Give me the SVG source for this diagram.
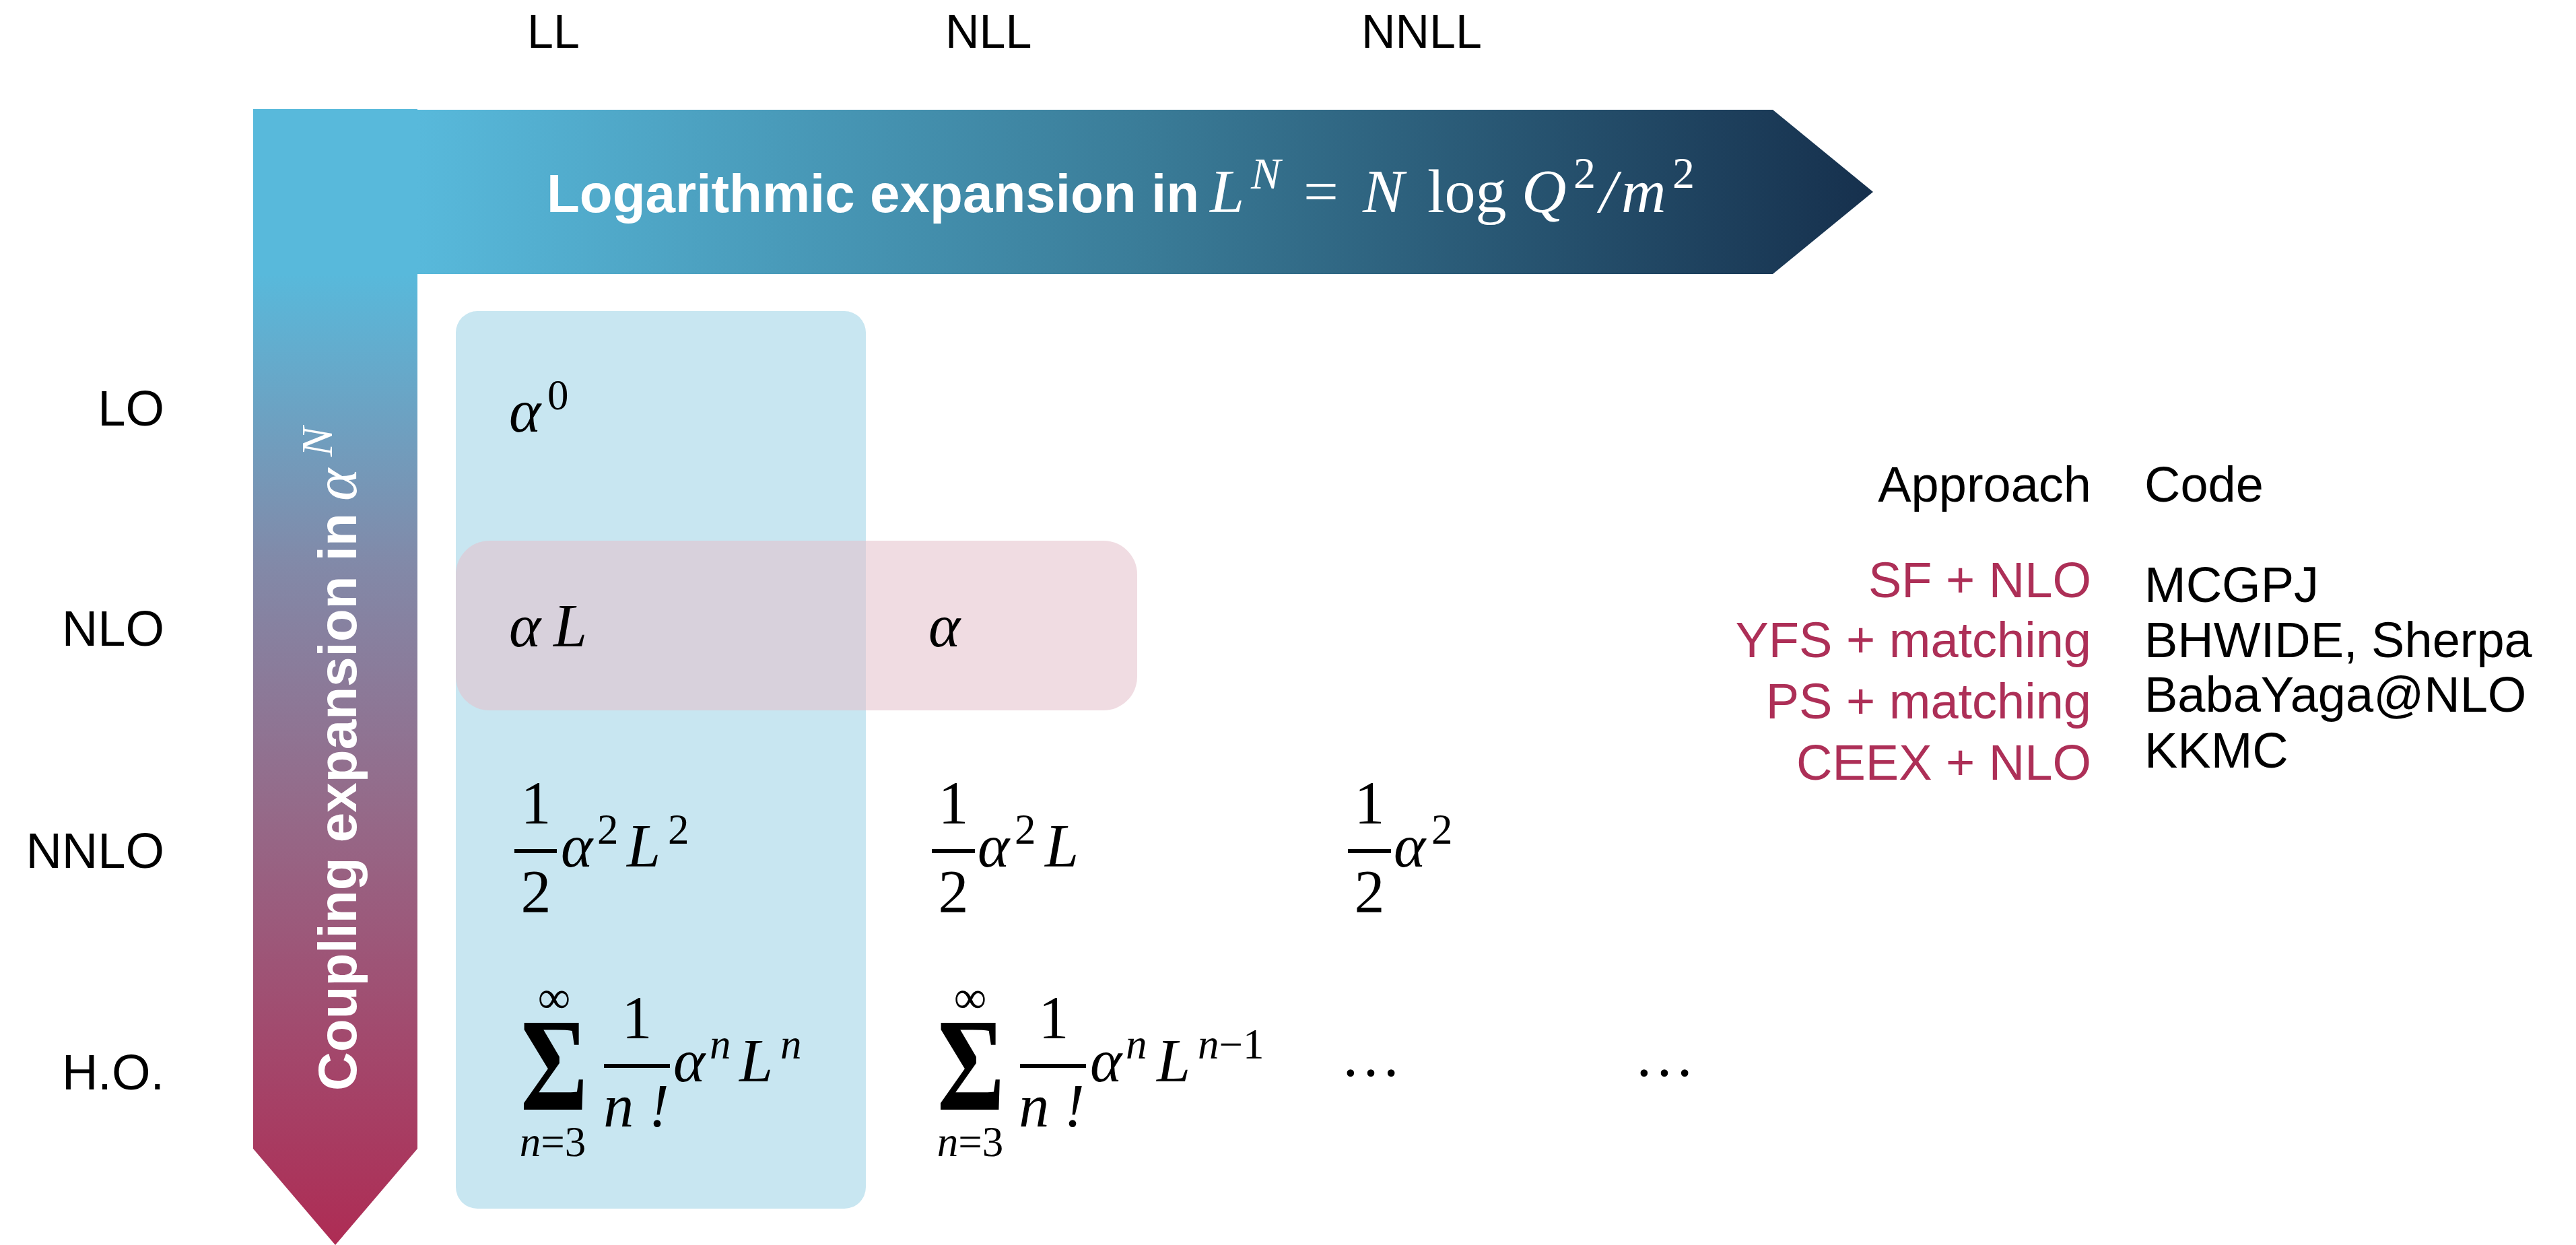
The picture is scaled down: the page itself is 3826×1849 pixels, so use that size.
<svg xmlns="http://www.w3.org/2000/svg" width="3826" height="1849" viewBox="0 0 3826 1849">
<defs>
<linearGradient id="gh" gradientUnits="userSpaceOnUse" x1="620" y1="0" x2="2782" y2="0">
<stop offset="0" stop-color="#58b9db"/>
<stop offset="0.5" stop-color="#3a7c98"/>
<stop offset="1" stop-color="#16304d"/>
</linearGradient>
<linearGradient id="gv" gradientUnits="userSpaceOnUse" x1="0" y1="407" x2="0" y2="1849">
<stop offset="0" stop-color="#58b9db"/>
<stop offset="0.3" stop-color="#8289a8"/>
<stop offset="0.55" stop-color="#956a89"/>
<stop offset="1" stop-color="#ae2c54"/>
</linearGradient>
</defs>
<style>
.lab{font-family:"Liberation Sans",Arial,sans-serif;fill:#000}
.hd{font-family:"Liberation Sans",Arial,sans-serif;font-weight:bold;font-size:80px;fill:#fff}
.m{font-family:"Liberation Serif","Times New Roman",serif;font-size:90px;fill:#000}
.i{font-style:italic}
.s{font-size:63px}
.sig{font-size:198px;font-weight:bold}
.red{fill:#ad2f57}
</style>
<rect width="3826" height="1849" fill="#fff"/>

<g id="axes">
<polygon id="coupling-arrow" points="376,162 620,162 620,1706 498,1849 376,1706" fill="url(#gv)"/>
<polygon id="log-arrow" points="619,163 2633,163 2782,285 2633,407 619,407" fill="url(#gh)"/>
<text class="hd" x="812" y="315">Logarithmic expansion in</text>
<g class="m" style="fill:#fff;font-size:92px">
<text x="1797" y="315" class="i">L</text>
<text x="1858" y="280" class="i" style="font-size:66px">N</text>
<text x="1936" y="315">=</text>
<text x="2024" y="315" class="i">N</text>
<text x="2120" y="315">log</text>
<text x="2260" y="315" class="i">Q</text>
<text x="2337" y="279" style="font-size:66px">2</text>
<text x="2376" y="315" class="i">/</text>
<text x="2408" y="315" class="i">m</text>
<text x="2484" y="279" style="font-size:66px">2</text>
</g>
<g transform="translate(529,1620) rotate(-90)">
<text class="hd" x="0" y="0">Coupling expansion in</text>
<text class="m i" x="876" y="0" style="fill:#fff;font-size:92px">α</text>
<text class="m i" x="942" y="-36" style="fill:#fff;font-size:66px">N</text>
</g>
</g>

<g id="highlights">
<rect id="LL-column" x="677" y="462" width="609" height="1333" rx="32" fill="#c8e6f1"/>
<rect id="NLO-row" x="677" y="803" width="1012" height="252" rx="50" fill="#e4c0cc" fill-opacity="0.56"/>
</g>

<g id="column-labels" class="lab" font-size="70">
<text x="783" y="71">LL</text>
<text x="1404" y="71">NLL</text>
<text x="2022" y="71">NNLL</text>
</g>

<g id="row-labels" class="lab" font-size="74" text-anchor="end">
<text x="244" y="632">LO</text>
<text x="244" y="959">NLO</text>
<text x="244" y="1289">NNLO</text>
<text x="244" y="1618">H.O.</text>
</g>

<g id="cell-LO-LL" class="m">
<text x="756" y="641" class="i">α</text>
<text x="813" y="608" class="s">0</text>
</g>

<g id="cell-NLO-LL" class="m">
<text x="756" y="960" class="i">α</text>
<text x="822" y="960" class="i">L</text>
</g>

<g id="cell-NLO-NLL" class="m">
<text x="1379" y="960" class="i">α</text>
</g>

<g id="cell-NNLO-LL" class="m">
<text x="796" y="1223" text-anchor="middle">1</text>
<rect x="764" y="1261" width="63" height="6" fill="#000"/>
<text x="796" y="1355" text-anchor="middle">2</text>
<text x="833" y="1287" class="i">α</text>
<text x="887" y="1253" class="s">2</text>
<text x="931" y="1287" class="i">L</text>
<text x="992" y="1253" class="s">2</text>
</g>

<g id="cell-NNLO-NLL" class="m">
<text x="1416" y="1223" text-anchor="middle">1</text>
<rect x="1384" y="1261" width="64" height="6" fill="#000"/>
<text x="1416" y="1355" text-anchor="middle">2</text>
<text x="1452" y="1287" class="i">α</text>
<text x="1507" y="1253" class="s">2</text>
<text x="1552" y="1287" class="i">L</text>
</g>

<g id="cell-NNLO-NNLL" class="m">
<text x="2034" y="1223" text-anchor="middle">1</text>
<rect x="2002" y="1261" width="64" height="6" fill="#000"/>
<text x="2034" y="1355" text-anchor="middle">2</text>
<text x="2070" y="1287" class="i">α</text>
<text x="2126" y="1253" class="s">2</text>
</g>

<g id="cell-HO-LL" class="m">
<text x="773" y="1648" class="sig" textLength="100" lengthAdjust="spacingAndGlyphs">Σ</text>
<text x="823" y="1504" text-anchor="middle" style="font-size:68px">∞</text>
<text x="821" y="1717" text-anchor="middle" class="s"><tspan class="i">n</tspan>=3</text>
<text x="946" y="1542" text-anchor="middle">1</text>
<rect x="897" y="1580" width="98" height="6" fill="#000"/>
<text x="945" y="1673" text-anchor="middle" class="i">n !</text>
<text x="1000" y="1606" class="i">α</text>
<text x="1054" y="1572" class="s i">n</text>
<text x="1098" y="1606" class="i">L</text>
<text x="1159" y="1572" class="s i">n</text>
</g>

<g id="cell-HO-NLL" class="m">
<text x="1392" y="1648" class="sig" textLength="100" lengthAdjust="spacingAndGlyphs">Σ</text>
<text x="1441" y="1504" text-anchor="middle" style="font-size:68px">∞</text>
<text x="1441" y="1717" text-anchor="middle" class="s"><tspan class="i">n</tspan>=3</text>
<text x="1565" y="1542" text-anchor="middle">1</text>
<rect x="1515" y="1580" width="98" height="6" fill="#000"/>
<text x="1562" y="1673" text-anchor="middle" class="i">n !</text>
<text x="1619" y="1606" class="i">α</text>
<text x="1672" y="1572" class="s i">n</text>
<text x="1718" y="1606" class="i">L</text>
<text x="1779" y="1572" class="s"><tspan class="i">n</tspan>−1</text>
</g>

<g id="cell-HO-NNLL" class="m">
<text x="2036" y="1598" text-anchor="middle">…</text>
</g>
<g id="cell-HO-beyond" class="m">
<text x="2472" y="1598" text-anchor="middle">…</text>
</g>

<g id="table" class="lab" font-size="74">
<g text-anchor="end">
<text x="3106" y="745">Approach</text>
<text x="3106" y="887" class="red">SF + NLO</text>
<text x="3106" y="976" class="red">YFS + matching</text>
<text x="3106" y="1067" class="red">PS + matching</text>
<text x="3106" y="1158" class="red">CEEX + NLO</text>
</g>
<text x="3185" y="745">Code</text>
<text x="3185" y="894">MCGPJ</text>
<text x="3185" y="976">BHWIDE, Sherpa</text>
<text x="3185" y="1057">BabaYaga@NLO</text>
<text x="3185" y="1140">KKMC</text>
</g>
</svg>
